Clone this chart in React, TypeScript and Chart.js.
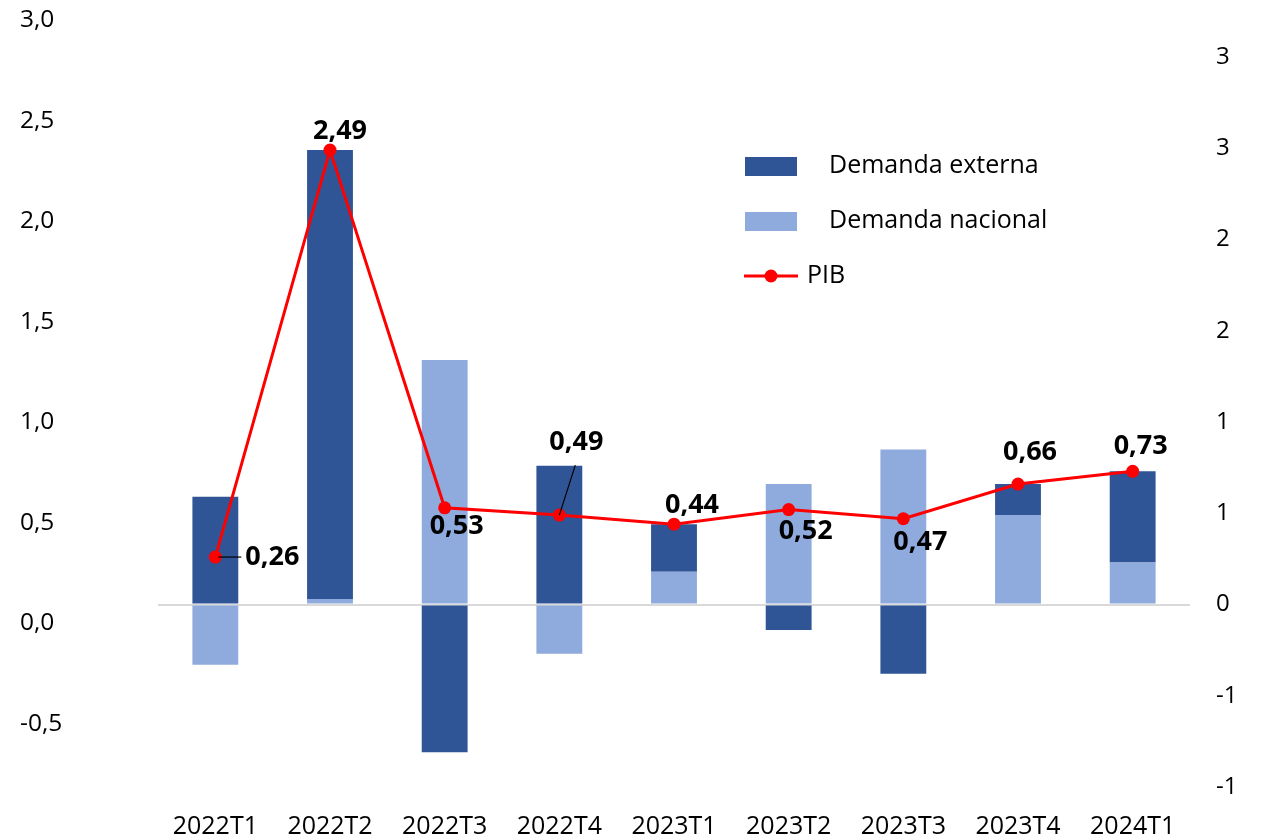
import React, { useEffect, useRef } from "react";
import { Chart, registerables } from "chart.js";

Chart.register(...registerables);

const categories = ["2022T1", "2022T2", "2022T3", "2022T4", "2023T1", "2023T2", "2023T3", "2023T4", "2024T1"];
const demandaExterna = [0.59, 2.46, -0.81, 0.76, 0.26, -0.14, -0.38, 0.17, 0.5];
const demandaNacional = [-0.33, 0.03, 1.34, -0.27, 0.18, 0.66, 0.85, 0.49, 0.23];
const pib = [0.26, 2.49, 0.53, 0.49, 0.44, 0.52, 0.47, 0.66, 0.73];
const pibLabels = ["0,26", "2,49", "0,53", "0,49", "0,44", "0,52", "0,47", "0,66", "0,73"];
const leftTicks = [-0.5, 0, 0.5, 1, 1.5, 2, 2.5, 3];
const rightTicks = [-1, -0.5, 0, 0.5, 1, 1.5, 2, 2.5, 3];

// label placement relative to each PIB point (styling)
const labelDx = [57, 10, 12, 17, 18, 17, 17, 12, 8];
const labelDy = [0, -19, 19, -73, -19, 22, 24, -32, -25];

const FONT = "'Open Sans', sans-serif";
const DARK = "#2F5597";
const LIGHT = "#8FAADC";
const RED = "#FF0000";

const labelsPlugin = {
  id: "pibLabels",
  afterDatasetsDraw(chart: any) {
    const ctx = chart.ctx;
    const meta = chart.getDatasetMeta(2);
    ctx.save();
    ctx.strokeStyle = "#000";
    ctx.lineWidth = 1.2;
    const p0 = meta.data[0];
    ctx.beginPath();
    ctx.moveTo(p0.x + 3, p0.y);
    ctx.lineTo(p0.x + 26, p0.y);
    ctx.stroke();
    const p3 = meta.data[3];
    ctx.beginPath();
    ctx.moveTo(p3.x, p3.y);
    ctx.lineTo(p3.x + 16, p3.y - 50);
    ctx.stroke();

    ctx.font = `bold 27px ${FONT}`;
    ctx.fillStyle = "#000";
    ctx.textAlign = "center";
    ctx.textBaseline = "middle";
    meta.data.forEach((pt: any, i: number) => {
      ctx.fillText(pibLabels[i], pt.x + labelDx[i], pt.y + labelDy[i]);
    });
    ctx.restore();
  },
  afterDraw(chart: any) {
    const ctx = chart.ctx;
    ctx.save();
    ctx.fillStyle = DARK;
    ctx.fillRect(745, 157, 52, 19);
    ctx.fillStyle = LIGHT;
    ctx.fillRect(745, 212, 52, 19);
    ctx.strokeStyle = RED;
    ctx.lineWidth = 3;
    ctx.beginPath();
    ctx.moveTo(744, 276);
    ctx.lineTo(798, 276);
    ctx.stroke();
    ctx.fillStyle = RED;
    ctx.beginPath();
    ctx.arc(771, 276, 6.5, 0, Math.PI * 2);
    ctx.fill();
    ctx.fillStyle = "#000";
    ctx.font = `25px ${FONT}`;
    ctx.textAlign = "left";
    ctx.textBaseline = "middle";
    ctx.fillText("Demanda externa", 829, 166);
    ctx.fillText("Demanda nacional", 829, 221);
    ctx.fillText("PIB", 807, 276);
    ctx.restore();
  },
};

function zeroPad(scale: any) {
  scale.paddingTop = 0;
  scale.paddingBottom = 0;
  scale.paddingLeft = 0;
  scale.paddingRight = 0;
}

export default function App() {
  const canvasRef = useRef<HTMLCanvasElement | null>(null);

  useEffect(() => {
    const canvas = canvasRef.current;
    if (!canvas) return;
    const chart = new Chart(canvas, {
      type: "bar",
      data: {
        labels: categories,
        datasets: [
          {
            type: "bar",
            label: "Demanda nacional",
            data: demandaNacional,
            backgroundColor: LIGHT,
            stack: "demanda",
            yAxisID: "y",
            order: 1,
            barPercentage: 0.4,
            categoryPercentage: 1,
          },
          {
            type: "bar",
            label: "Demanda externa",
            data: demandaExterna,
            backgroundColor: DARK,
            stack: "demanda",
            yAxisID: "y",
            order: 1,
            barPercentage: 0.4,
            categoryPercentage: 1,
          },
          {
            type: "line",
            label: "PIB",
            data: pib,
            borderColor: RED,
            backgroundColor: RED,
            borderWidth: 3,
            pointRadius: 6.5,
            pointBackgroundColor: RED,
            pointBorderWidth: 0,
            stack: "pib",
            yAxisID: "y",
            order: 0,
            tension: 0,
          } as any,
        ],
      },
      options: {
        responsive: false,
        animation: false,
        layout: { padding: { left: 20, top: 20, right: 0, bottom: 0 } },
        plugins: {
          legend: { display: false },
          tooltip: { enabled: false },
        },
        scales: {
          x: {
            stacked: true,
            grid: { display: false, drawTicks: false },
            border: { display: false },
            ticks: {
              color: "#000",
              font: { family: FONT, size: 25 },
              padding: 25,
              maxRotation: 0,
            },
            afterFit(scale: any) {
              scale.height = 51;
              zeroPad(scale);
            },
          },
          yL: {
            type: "linear",
            position: "left",
            min: -0.813,
            max: 3.0,
            grid: { display: false, drawTicks: false },
            border: { display: false },
            afterBuildTicks(scale: any) {
              scale.ticks = leftTicks.map((v) => ({ value: v }));
            },
            ticks: {
              color: "#000",
              crossAlign: "far",
              font: { family: FONT, size: 24.5 },
              callback: (v: any) => Number(v).toFixed(1).replace(".", ","),
            },
            afterFit(scale: any) {
              scale.width = 138;
              zeroPad(scale);
            },
          },
          y: {
            type: "linear",
            position: "right",
            stacked: true,
            min: -1.0,
            max: 3.203,
            grid: {
              drawTicks: false,
              color: (c: any) => (c.tick && c.tick.value === 0 ? "#D9D9D9" : "rgba(0,0,0,0)"),
              lineWidth: 2,
            },
            border: { display: false },
            afterBuildTicks(scale: any) {
              scale.ticks = rightTicks.map((v) => ({ value: v }));
            },
            ticks: {
              color: "#000",
              padding: 26,
              font: { family: FONT, size: 24 },
              callback: (v: any) => {
                const n = Number(v);
                const r = Math.sign(n) * Math.round(Math.abs(n));
                return String(r === 0 ? 0 : r);
              },
            },
            afterFit(scale: any) {
              scale.width = 71;
              zeroPad(scale);
            },
          },
        },
      },
      plugins: [labelsPlugin],
    });
    return () => chart.destroy();
  }, []);

  return (
    <div style={{ position: "absolute", left: 0, top: 0, width: 1261, height: 838, background: "#fff" }}>
      <canvas ref={canvasRef} width={1261} height={838} />
    </div>
  );
}
